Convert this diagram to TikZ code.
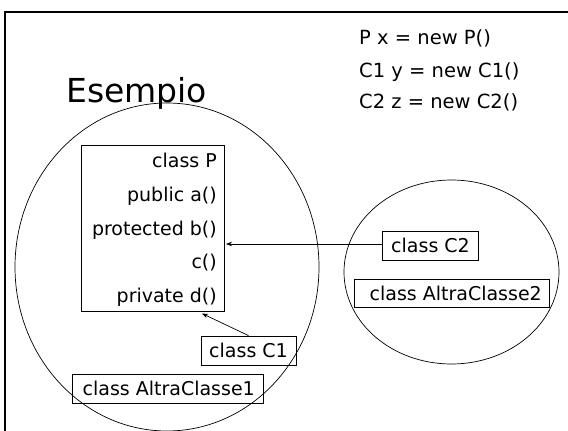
\documentclass[tikz,border=0pt]{standalone}
\usepackage{fontspec}
\setmainfont{DejaVu Sans}
\usetikzlibrary{arrows.meta}
\tikzset{
  txt/.style={inner sep=0pt, font=\fontsize{19}{23}\selectfont},
  toptxt/.style={inner sep=0pt, font=\fontsize{19.5}{23}\selectfont},
  boxx/.style={draw, line width=0.8pt, inner sep=0pt},
  conn/.style={line width=0.7pt, -{Stealth[length=6pt,width=4.5pt]}},
  frame/.style={line width=2pt},
  circ/.style={line width=0.7pt}
}
\begin{document}
\begin{tikzpicture}[x=1pt,y=-1pt]
\useasboundingbox (0,0) rectangle (568,431);
% frame
\draw[frame] (5,431) -- (5,12) -- (568,12);
% groups
\draw[circ] (167,267) ellipse [x radius=152pt, y radius=164pt];
\draw[circ] (451.5,272) ellipse [x radius=107.5pt, y radius=92pt];
% title
\node[anchor=base west, inner sep=0pt, font=\fontsize{33}{38}\selectfont] (title) at (66,102) {Esempio};
% code lines
\node[toptxt, anchor=base west] (l1) at (359,45) {P x = new P()};
\node[toptxt, anchor=base west] (l2) at (359,77) {C1 y = new C1()};
\node[toptxt, anchor=base west] (l3) at (359,108.5) {C2 z = new C2()};
% class P box
\node[boxx, minimum width=143pt, minimum height=166pt] (P) at (152.5,228) {};
\node[txt, anchor=base east] (p1) at (217,167.5) {class P};
\node[txt, anchor=base east] (p2) at (217,201.3) {public a()};
\node[txt, anchor=base east] (p3) at (217,235) {protected b()};
\node[txt, anchor=base east] (p4) at (217,268.8) {c()};
\node[txt, anchor=base east] (p5) at (217,302.5) {private d()};
% other boxes
\node[boxx, minimum width=96pt, minimum height=29pt] (C2) at (430,245.5) {};
\node[txt, anchor=base east] (C2t) at (470,252.5) {class C2};
\node[boxx, minimum width=195pt, minimum height=28pt] (A2) at (451.5,293) {};
\node[txt, anchor=base east] (A2t) at (542,300) {class AltraClasse2};
\node[boxx, minimum width=95pt, minimum height=29pt] (C1) at (248.5,350.5) {};
\node[txt, anchor=base east] (C1t) at (288,357.5) {class C1};
\node[boxx, minimum width=191pt, minimum height=29pt] (A1) at (167.5,388.5) {};
\node[txt, anchor=base east] (A1t) at (255,395.5) {class AltraClasse1};
% connectors
\coordinate (c2end) at (226,244);
\coordinate (c1end) at (202,313.5);
\draw[conn] (C2.west |- c2end) -- (c2end);
\draw[conn] (C1.north) -- (c1end);
\end{tikzpicture}
\end{document}
